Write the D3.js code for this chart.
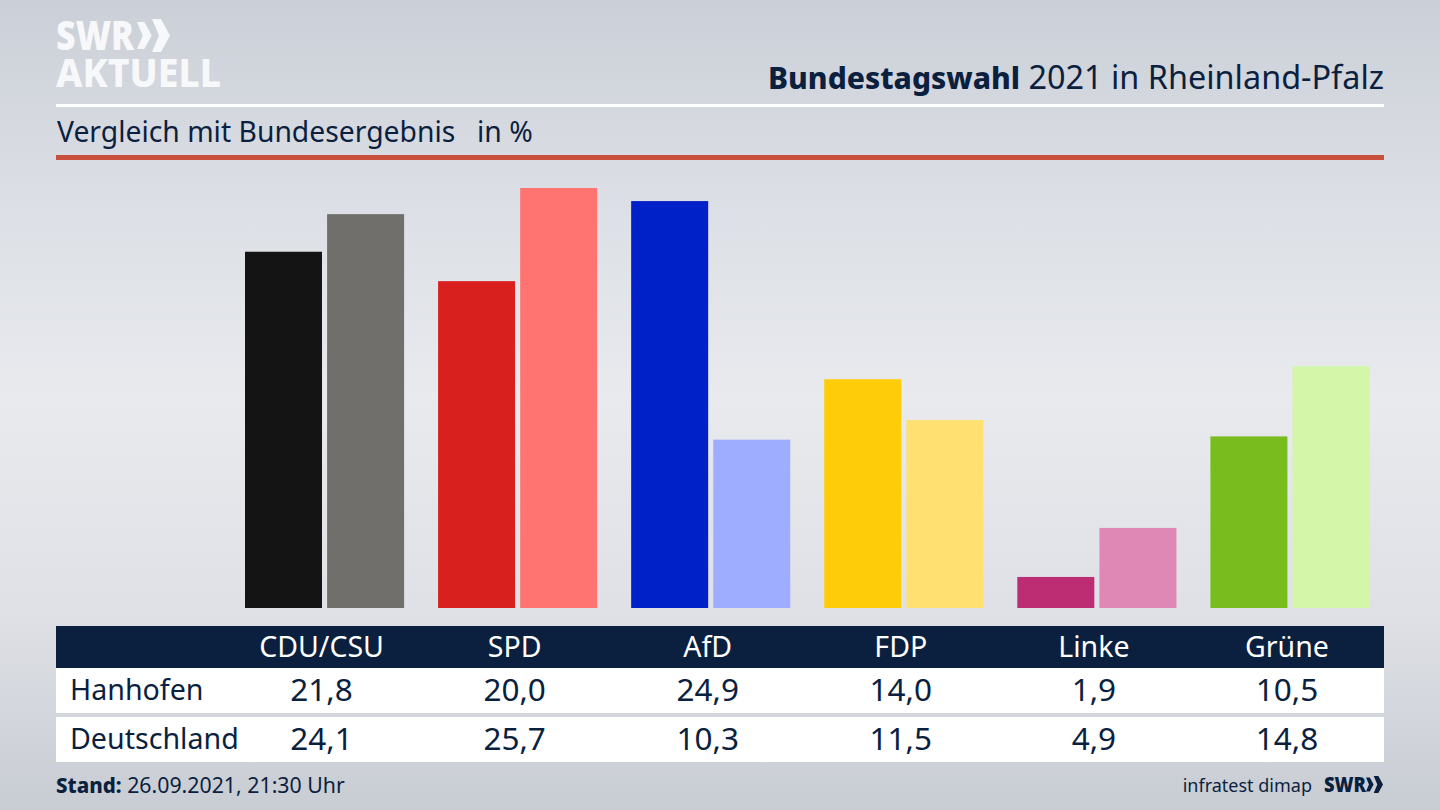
<!DOCTYPE html>
<html>
<head>
<meta charset="utf-8">
<script src="https://cdn.jsdelivr.net/npm/d3@7"></script>
<style>
	html, body { margin: 0; padding: 0; background: #d5d8df; }
	svg { display: block; }
	text { font-family: "Noto Sans", sans-serif; fill: #0b1f3f; }
</style>
</head>
<body>
<div id="graph"></div>
<script>
var parties = ["CDU/CSU", "SPD", "AfD", "FDP", "Linke", "Grüne"];
var regions = ["Hanhofen", "Deutschland"];
var hanhofen = [21.8, 20.0, 24.9, 14.0, 1.9, 10.5];
var deutschland = [24.1, 25.7, 10.3, 11.5, 4.9, 14.8];
var darkColors = ["#141414", "#d8201e", "#0021c8", "#ffcc0a", "#bc2d74", "#78bc1e"];
var lightColors = ["#706f6c", "#ff7370", "#9eadff", "#ffe070", "#df88b6", "#d3f6a8"];

var navy = "#0b1f3f";
var width = 1440, height = 810;
var left = 56, right = 1384;

var svg = d3.select("#graph")
	.append("svg")
	.attr("width", width)
	.attr("height", height);

// background, lightest a bit above the middle
var grad = svg.append("defs").append("linearGradient")
	.attr("id", "bg")
	.attr("x1", 0).attr("y1", 0).attr("x2", 0).attr("y2", 1);
grad.append("stop").attr("offset", "0%").attr("stop-color", "#cbcfd7");
grad.append("stop").attr("offset", "25%").attr("stop-color", "#dcdfe5");
grad.append("stop").attr("offset", "49%").attr("stop-color", "#e8eaee");
grad.append("stop").attr("offset", "75%").attr("stop-color", "#dfe1e6");
grad.append("stop").attr("offset", "100%").attr("stop-color", "#c8ccd3");
svg.append("rect").attr("width", width).attr("height", height).attr("fill", "url(#bg)");

// x scales: one band per party, two bars inside it
var x = d3.scaleBand()
	.domain(parties)
	.range([245, 1369.5])
	.paddingInner(0.176);
var xInner = d3.scaleBand()
	.domain(regions)
	.range([0, x.bandwidth()])
	.paddingInner(0.062);

// y scale, 0 sits on the bottom of the bars
var y = d3.scaleLinear()
	.domain([0, 25.7])
	.range([608, 188]);

// table columns sit slightly left of the bar groups
function colX(party) { return x(party) + x.bandwidth() / 2 - 3; }

var series = [
	{ name: regions[0], values: hanhofen, colors: darkColors },
	{ name: regions[1], values: deutschland, colors: lightColors }
];

series.forEach(function (s) {
	svg.append("g").selectAll("rect")
		.data(parties)
		.join("rect")
		.attr("x", function (d) { return x(d) + xInner(s.name); })
		.attr("y", function (d, i) { return y(s.values[i]); })
		.attr("width", xInner.bandwidth())
		.attr("height", function (d, i) { return y(0) - y(s.values[i]); })
		.attr("fill", function (d, i) { return s.colors[i]; });
});

// header
svg.append("rect").attr("x", left).attr("y", 104).attr("width", right - left).attr("height", 3).attr("fill", "#ffffff");
svg.append("rect").attr("x", left).attr("y", 155).attr("width", right - left).attr("height", 5).attr("fill", "#c9503c");

var title = svg.append("text")
	.attr("x", right).attr("y", 89)
	.attr("text-anchor", "end");
title.append("tspan").style("font-size", "30px").style("font-weight", 800).text("Bundestagswahl");
title.append("tspan").style("font-size", "32.4px").text(" 2021 in Rheinland-Pfalz");

svg.append("text")
	.attr("x", 57).attr("y", 142)
	.style("font-size", "28.3px")
	.text("Vergleich mit Bundesergebnis");
svg.append("text")
	.attr("x", 477).attr("y", 142)
	.style("font-size", "28.3px")
	.text("in %");

// logo
svg.append("text")
	.attr("x", 56).attr("y", 50)
	.style("font-size", "41px").style("font-weight", 900).style("fill", "#f7f8f9")
	.attr("textLength", 78).attr("lengthAdjust", "spacingAndGlyphs")
	.text("SWR");
svg.append("text")
	.attr("x", 56).attr("y", 87)
	.style("font-size", "40px").style("font-weight", 800).style("fill", "#f7f8f9")
	.attr("textLength", 165).attr("lengthAdjust", "spacingAndGlyphs")
	.text("AKTUELL");

// the two arrows next to SWR, the first one is a bit smaller
function chevrons(g, size, fill) {
	var u = size / 33;
	[{ dx: 0, s: 0.82 }, { dx: 15, s: 1 }].forEach(function (c) {
		var h = 33 * c.s, mid = 16.5;
		var top = mid - h / 2, bottom = mid + h / 2;
		var pts = [
			[c.dx, top], [c.dx + 9 * c.s, top], [c.dx + 18 * c.s, mid],
			[c.dx + 9 * c.s, bottom], [c.dx, bottom], [c.dx + 7 * c.s, mid]
		];
		g.append("path")
			.attr("d", "M" + pts.map(function (p) { return (p[0] * u) + "," + (p[1] * u); }).join(" L") + " Z")
			.attr("fill", fill);
	});
}
chevrons(svg.append("g").attr("transform", "translate(137,19)"), 33, "#f7f8f9");

// table
svg.append("rect").attr("x", left).attr("y", 626).attr("width", right - left).attr("height", 42).attr("fill", navy);
svg.append("rect").attr("x", left).attr("y", 668).attr("width", right - left).attr("height", 45).attr("fill", "#ffffff");
svg.append("rect").attr("x", left).attr("y", 717).attr("width", right - left).attr("height", 45).attr("fill", "#ffffff");

svg.append("g").selectAll("text")
	.data(parties)
	.join("text")
	.attr("x", function (d) { return colX(d); })
	.attr("y", 657)
	.attr("text-anchor", "middle")
	.style("font-size", "28.5px")
	.style("fill", "#ffffff")
	.text(function (d) { return d; });

var rowY = [700, 749];
var fmt = function (v) { return v.toFixed(1).replace(".", ","); };

series.forEach(function (s, r) {
	svg.append("text")
		.attr("x", 70).attr("y", rowY[r])
		.style("font-size", "28.6px")
		.text(s.name);
	svg.append("g").selectAll("text")
		.data(s.values)
		.join("text")
		.attr("x", function (d, i) { return colX(parties[i]); })
		.attr("y", rowY[r] + 1)
		.attr("text-anchor", "middle")
		.style("font-size", "31.5px")
		.text(fmt);
});

// footer
var stand = svg.append("text")
	.attr("x", 56).attr("y", 793);
stand.append("tspan").style("font-size", "20.5px").style("font-weight", 800).text("Stand:");
stand.append("tspan").style("font-size", "21.3px").text(" 26.09.2021, 21:30 Uhr");

svg.append("text")
	.attr("x", 1312).attr("y", 792)
	.attr("text-anchor", "end")
	.style("font-size", "18px")
	.text("infratest dimap");
svg.append("text")
	.attr("x", 1324).attr("y", 792)
	.style("font-size", "21px").style("font-weight", 900)
	.attr("textLength", 42).attr("lengthAdjust", "spacingAndGlyphs")
	.text("SWR");
chevrons(svg.append("g").attr("transform", "translate(1366,776)"), 17, navy);
</script>
</body>
</html>
